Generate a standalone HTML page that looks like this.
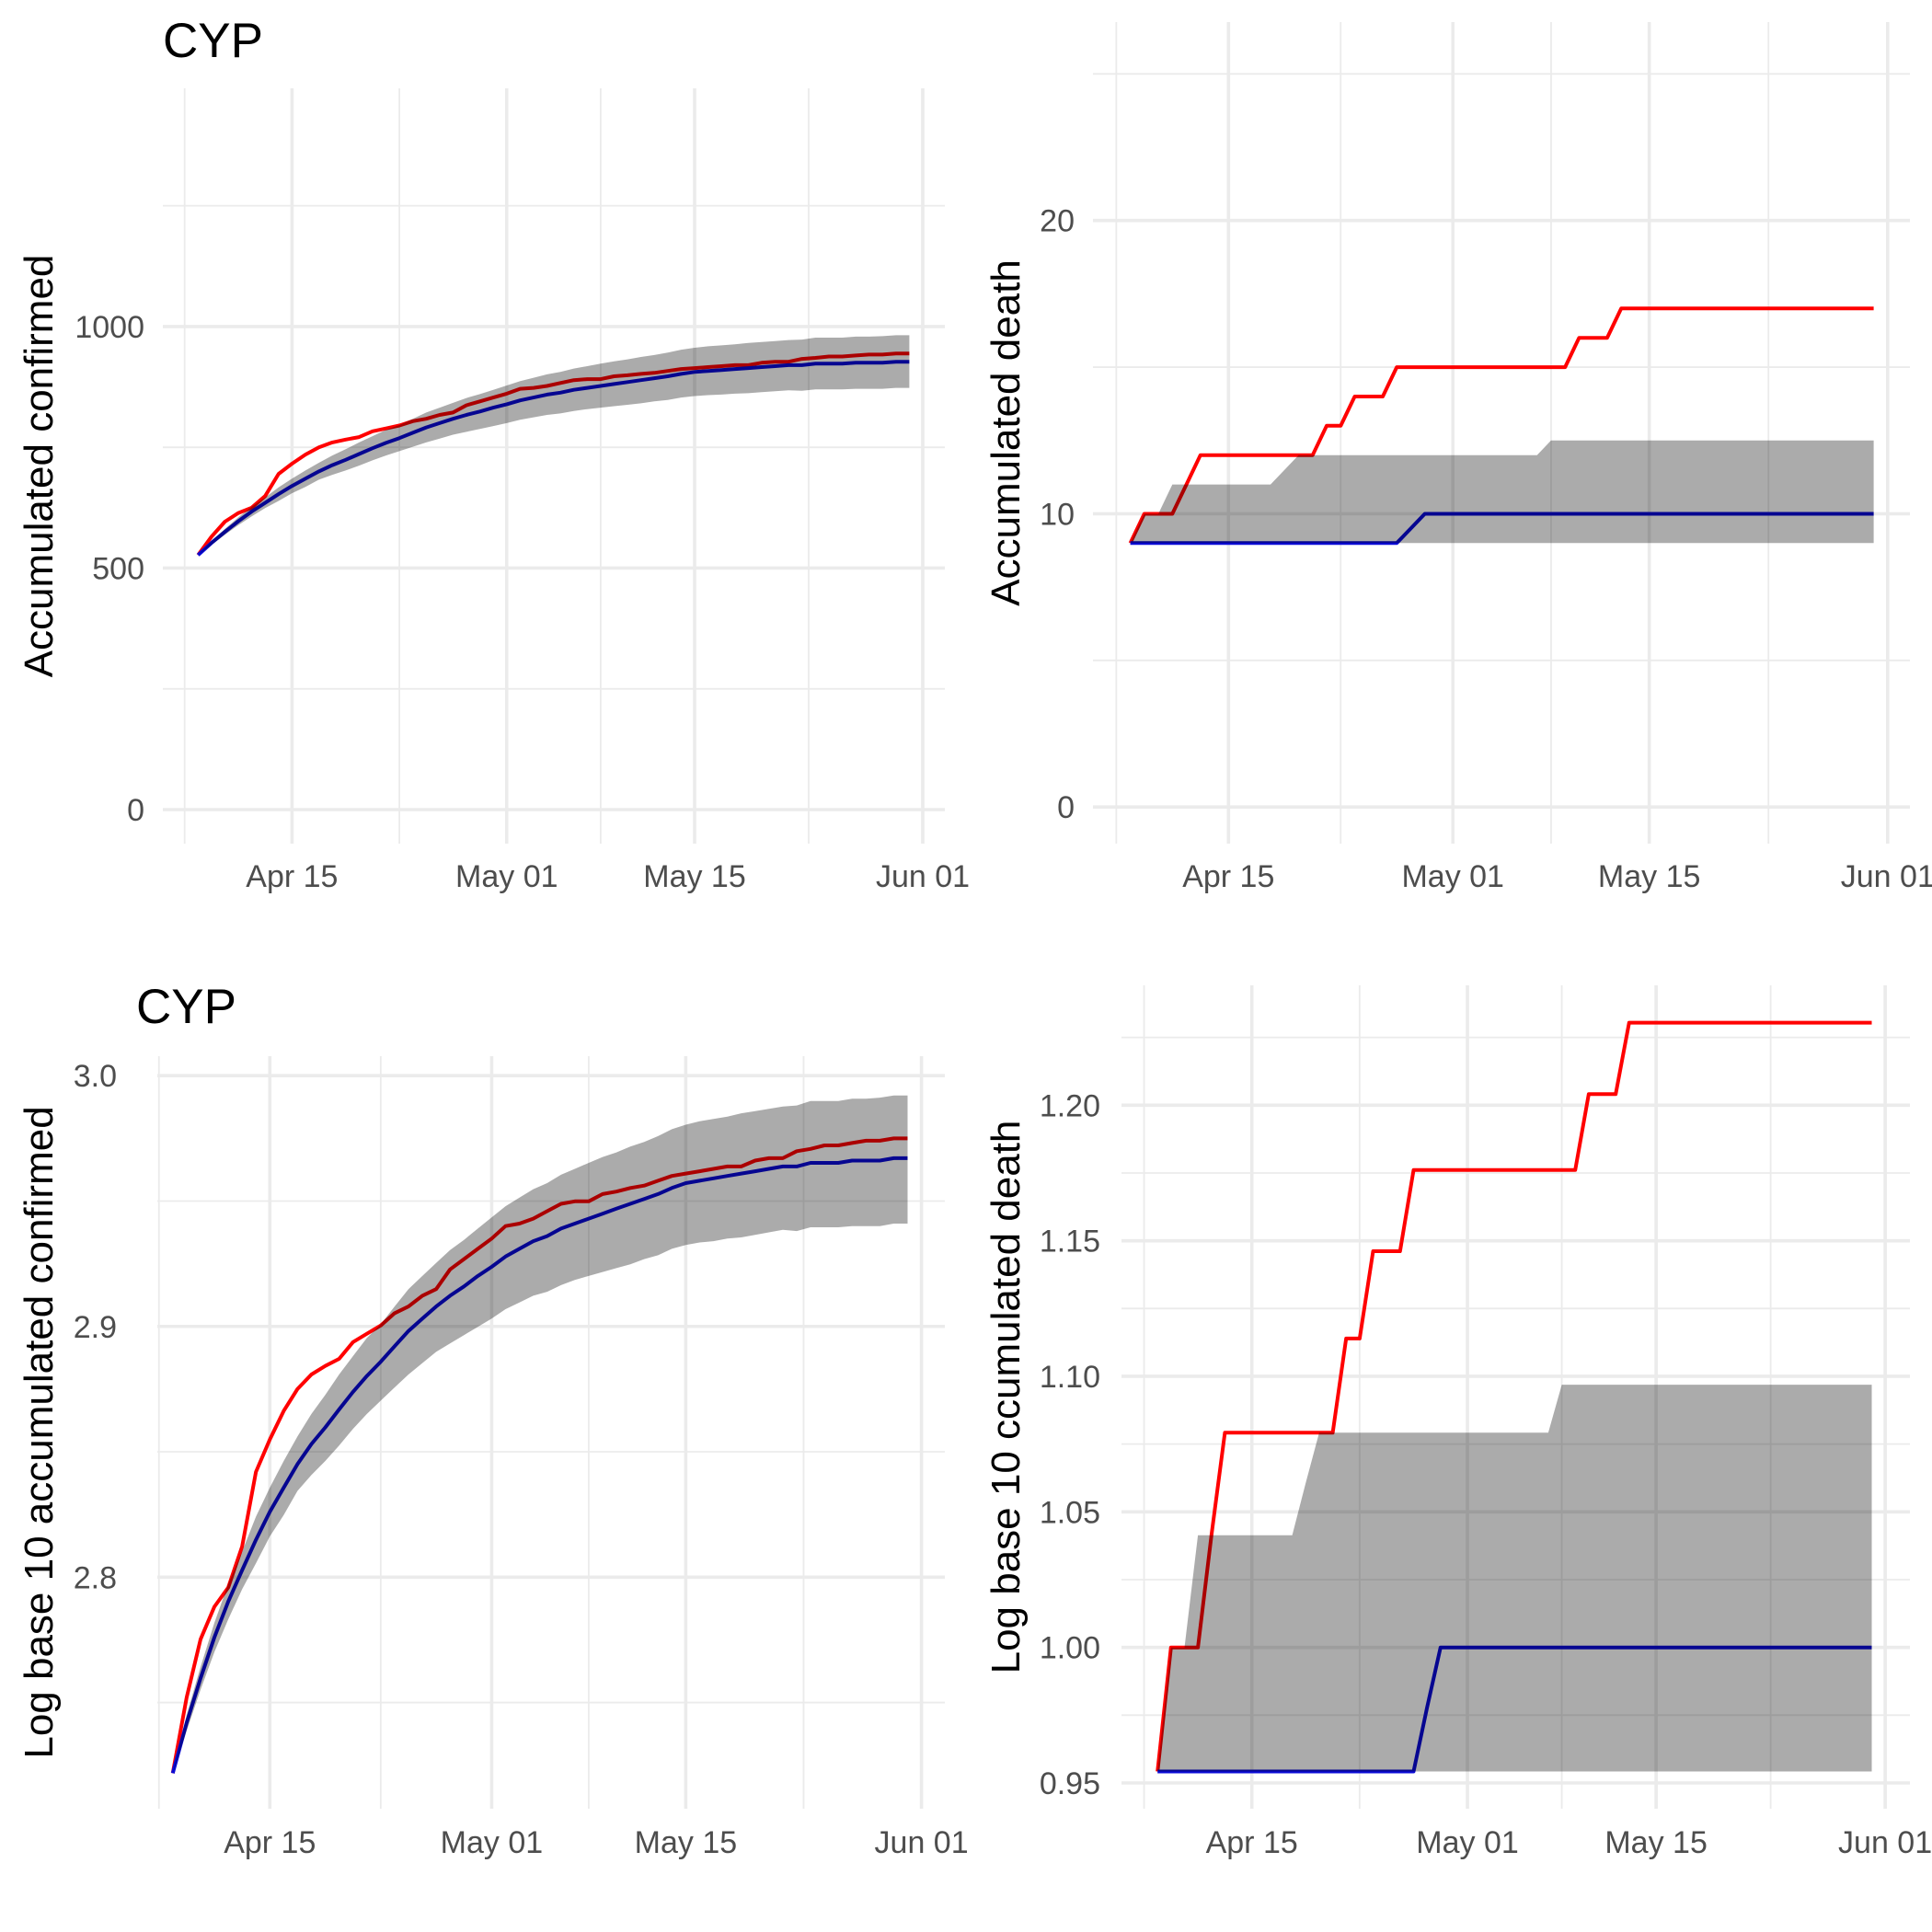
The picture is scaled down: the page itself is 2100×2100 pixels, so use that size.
<!DOCTYPE html>
<html><head><meta charset="utf-8"><title>CYP charts</title>
<style>html,body{margin:0;padding:0;background:#fff;}svg{display:block;font-family:"Liberation Sans",sans-serif;}</style>
</head><body>
<svg id="chart" width="2100" height="2100" viewBox="0 0 2100 2100"></svg>
<script>
// days since Apr 08
const days = Array.from({length:54},(_,i)=>i);
const confObserved = [527,565,596,614,625,649,695,716,735,750,760,766,771,783,789,795,804,809,817,822,837,845,853,861,871,873,877,883,889,891,891,897,899,902,904,908,912,914,916,918,920,920,925,927,927,933,935,938,938,940,942,942,944,944];
const confModel = [527,552,575,597,617,635,653,670,685,700,713,724,736,748,759,769,780,791,800,809,817,824,832,839,847,853,859,863,869,873,877,881,885,889,893,897,902,906,908,910,912,914,916,918,920,920,923,923,923,925,925,925,927,927];
const confUpper = [527,556,581,605,627,646,667,685,702,718,733,746,760,773,786,796,809,822,832,842,852,860,869,878,887,894,901,906,913,918,923,928,932,937,941,946,952,956,959,961,963,966,968,970,972,973,977,977,977,979,979,980,982,982];
const confLower = [527,548,569,589,607,624,639,655,668,683,693,702,712,723,733,742,751,760,768,776,782,788,794,800,807,812,817,820,825,829,832,835,838,841,845,848,853,856,858,859,861,862,864,866,868,867,870,870,870,871,871,871,873,873];
const deathObserved = [9,10,10,10,11,12,12,12,12,12,12,12,12,12,13,13,14,14,14,15,15,15,15,15,15,15,15,15,15,15,15,15,16,16,16,17,17,17,17,17,17,17,17,17,17,17,17,17,17,17,17,17,17,17];
const deathModel = [9,9,9,9,9,9,9,9,9,9,9,9,9,9,9,9,9,9,9,9,9.5,10,10,10,10,10,10,10,10,10,10,10,10,10,10,10,10,10,10,10,10,10,10,10,10,10,10,10,10,10,10,10,10,10];
const deathUpper = [9,10,10,11,11,11,11,11,11,11,11,11.5,12,12,12,12,12,12,12,12,12,12,12,12,12,12,12,12,12,12,12.5,12.5,12.5,12.5,12.5,12.5,12.5,12.5,12.5,12.5,12.5,12.5,12.5,12.5,12.5,12.5,12.5,12.5,12.5,12.5,12.5,12.5,12.5,12.5];
const deathLower = [9,9,9,9,9,9,9,9,9,9,9,9,9,9,9,9,9,9,9,9,9,9,9,9,9,9,9,9,9,9,9,9,9,9,9,9,9,9,9,9,9,9,9,9,9,9,9,9,9,9,9,9,9,9];
const dateTicks = ["Apr 15","May 01","May 15","Jun 01"];
const dateTickDays = [7,23,37,54];
const dateMinorDays = [-1,15,30,45.5];
const confTicks = [0,500,1000];
const confMinor = [250,750,1250];
const deathTicks = [0,10,20];
const deathMinor = [5,15,25];
const logConfTicks = [2.8,2.9,3.0];
const logConfMinor = [2.75,2.85,2.95];
const logDeathTicks = [0.95,1.00,1.05,1.10,1.15,1.20];
const logDeathMinor = [0.975,1.025,1.075,1.125,1.175,1.225];

const NS="http://www.w3.org/2000/svg";
const svg=document.getElementById('chart');
function mk(tag,attrs,parent){const e=document.createElementNS(NS,tag);for(const k in attrs)e.setAttribute(k,attrs[k]);(parent||svg).appendChild(e);return e;}

function panel(c){
  const g=mk('g',{});
  
  
  const xs=d=>c.x0+(d-7)*c.pxDay;
  const ys=v=>c.yA+(c.tf(v)-c.tf(c.vA))*(c.yB-c.yA)/(c.tf(c.vB)-c.tf(c.vA));
  c.yMinor.forEach(v=>{const y=ys(v);if(y<c.top-1)return;const l=mk('line',{x1:c.left,x2:c.right,y1:y,y2:y,stroke:'#ebebeb','stroke-width':1.8},g);
    
    });
  dateMinorDays.forEach(d=>{const x=xs(d);const l=mk('line',{x1:x,x2:x,y1:c.top,y2:c.bottom,stroke:'#ebebeb','stroke-width':1.8},g);
    
    });
  c.yTicks.forEach(v=>{const y=ys(v);const l=mk('line',{x1:c.left,x2:c.right,y1:y,y2:y,stroke:'#ebebeb','stroke-width':3.6},g);
    
    
    const t=mk('text',{x:c.ylabX,y:y+12,'text-anchor':'end','font-size':34,fill:'#4d4d4d'},g);t.textContent=c.fmt(v);
    
    });
  dateTickDays.forEach((d,i)=>{const x=xs(d);const l=mk('line',{x1:x,x2:x,y1:c.top,y2:c.bottom,stroke:'#ebebeb','stroke-width':3.6},g);
    
    
    const t=mk('text',{x:x,y:c.xlabY,'text-anchor':'middle','font-size':34,fill:'#4d4d4d'},g);t.textContent=dateTicks[i];
    
    });
  const path=(arr)=>arr.map((v,i)=>(i?'L':'M')+xs(days[i]).toFixed(1)+' '+ys(v).toFixed(1)).join(' ');
  const lr=mk('path',{d:path(c.obs),fill:'none',stroke:'#ff0000','stroke-width':4,'stroke-linejoin':'round'},g);
  
  
  const lb=mk('path',{d:path(c.model),fill:'none',stroke:'#0a0ad8','stroke-width':4,'stroke-linejoin':'round'},g);
  
  
  let d='M'+c.up.map((v,i)=>xs(days[i]).toFixed(1)+' '+ys(v).toFixed(1)).join(' L');
  for(let i=c.lo.length-1;i>=0;i--)d+=' L'+xs(days[i]).toFixed(1)+' '+ys(c.lo[i]).toFixed(1);
  const band=mk('path',{d:d+' Z',fill:'#000','fill-opacity':0.33},g);
  
  
  const cy=(c.top+c.bottom)/2;
  const yt=mk('text',{x:c.ytitleX,y:cy,transform:`rotate(-90 ${c.ytitleX} ${cy})`,'text-anchor':'middle','font-size':44,fill:'#000'},g);
  yt.textContent=c.ytitle;
  
  
  if(c.title){const t=mk('text',{x:c.titleX,y:c.titleY,'font-size':53,fill:'#000'},g);t.textContent=c.title;
    
    }
}
const lin=v=>v, lg=v=>Math.log10(v);
panel({name:'confirmed-panel',left:177,right:1027,top:96,bottom:917,x0:317.4,pxDay:14.587,vA:0,yA:880,vB:1000,yB:354.9,tf:lin,
  yTicks:confTicks,yMinor:confMinor,fmt:v=>String(v),ylabX:157,xlabY:964,ytitleX:57,ytitle:'Accumulated confirmed',
  obs:confObserved,model:confModel,up:confUpper,lo:confLower,title:'CYP',titleX:177,titleY:62});
panel({name:'death-panel',left:1188,right:2076,top:24,bottom:917,x0:1335.3,pxDay:15.245,vA:0,yA:877.2,vB:20,yB:239.7,tf:lin,
  yTicks:deathTicks,yMinor:deathMinor,fmt:v=>String(v),ylabX:1168,xlabY:964,ytitleX:1108,ytitle:'Accumulated death',
  obs:deathObserved,model:deathModel,up:deathUpper,lo:deathLower});
panel({name:'log-confirmed-panel',left:171,right:1027,top:1148,bottom:1966,x0:293.3,pxDay:15.07,vA:Math.pow(10,2.8),yA:1714.3,vB:1000,yB:1169.2,tf:lg,
  yTicks:logConfTicks.map(v=>Math.pow(10,v)),yMinor:logConfMinor.map(v=>Math.pow(10,v)),fmt:v=>Math.log10(v).toFixed(1),ylabX:127,xlabY:2014,ytitleX:57,ytitle:'Log base 10 accumulated confirmed',
  obs:confObserved,model:confModel,up:confUpper,lo:confLower,title:'CYP',titleX:148,titleY:1112});
panel({name:'log-death-panel',left:1219,right:2076,top:1071,bottom:1966,x0:1360.7,pxDay:14.647,vA:Math.pow(10,0.95),yA:1938,vB:Math.pow(10,1.2),yB:1201.3,tf:lg,
  yTicks:logDeathTicks.map(v=>Math.pow(10,v)),yMinor:logDeathMinor.map(v=>Math.pow(10,v)),fmt:v=>Math.log10(v).toFixed(2),ylabX:1196,xlabY:2014,ytitleX:1108,ytitle:'Log base 10 ccumulated death',
  obs:deathObserved,model:deathModel,up:deathUpper,lo:deathLower});
</script>
</body></html>
